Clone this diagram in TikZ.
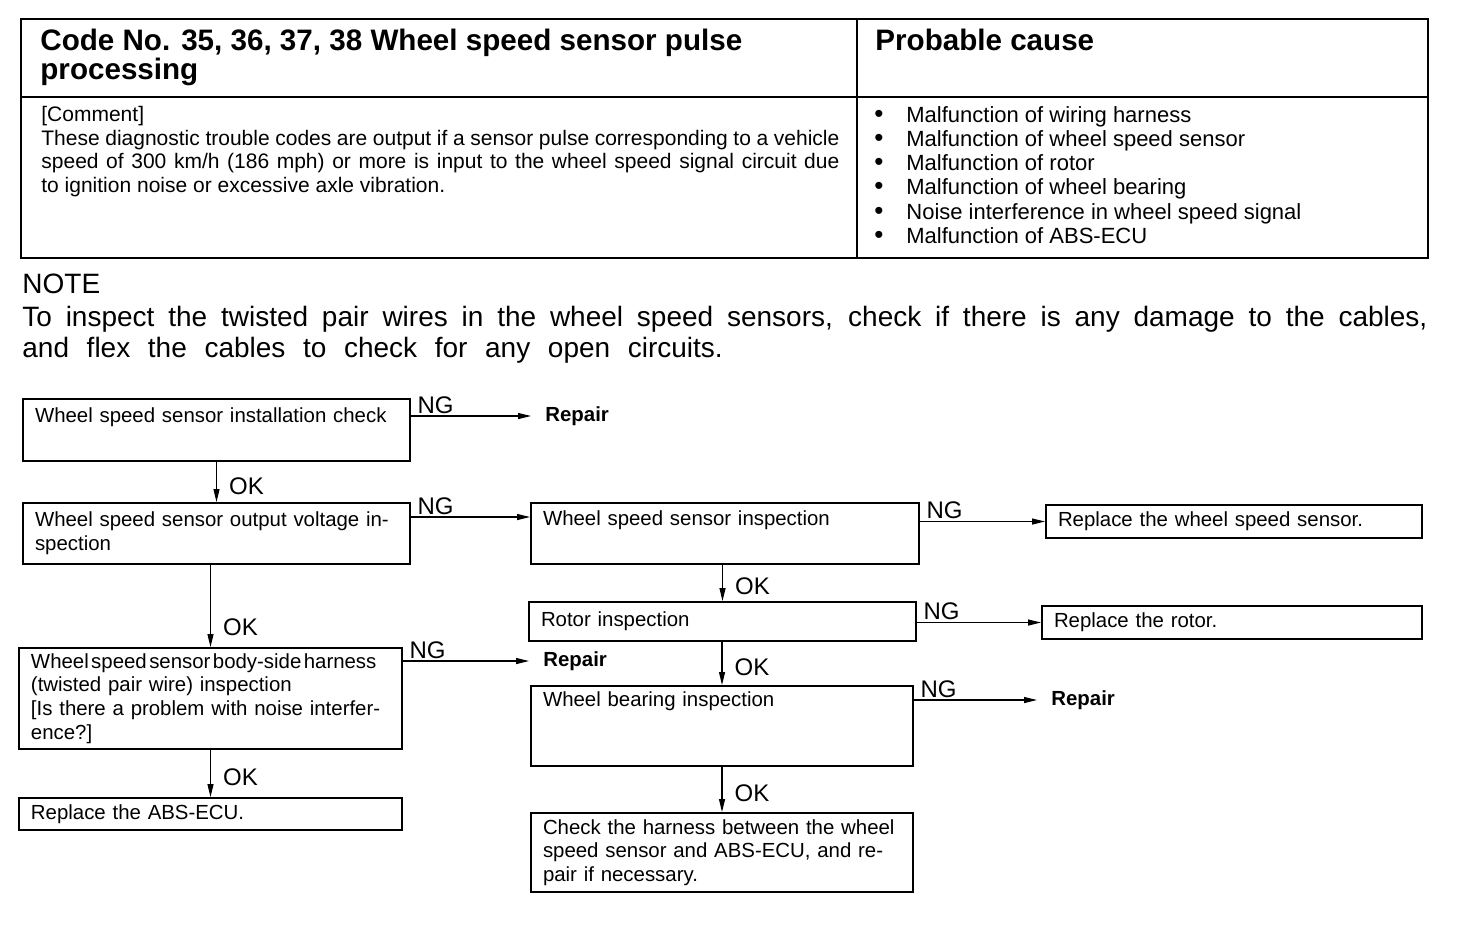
\documentclass[tikz,border=0pt]{standalone}
\usepackage{fontspec}
\setmainfont{Liberation Sans}
\usetikzlibrary{positioning,arrows.meta}
\newcommand{\boxfont}{\fontsize{10.2}{11.8}\selectfont}
\newcommand{\causebullet}{\makebox[16pt][l]{\fontsize{13}{12}\selectfont\textbullet}}
\tikzset{
  flowbox/.style={draw, line width=1pt, anchor=north west, align=left, inner xsep=6pt, inner ysep=2pt, font=\boxfont},
  repairnode/.style={anchor=west, inner xsep=7pt, inner ysep=2pt, font=\boxfont\bfseries},
  arrow/.style={-{Triangle[length=6.5pt,width=3pt]}, line width=0.6pt},
  nglabel/.style={anchor=south west, inner sep=1pt, xshift=2pt, font=\fontsize{12}{12}\selectfont},
  oklabel/.style={anchor=west, inner sep=1pt, xshift=5pt, font=\fontsize{12}{12}\selectfont},
  tablerule/.style={line width=1.2pt}
}

\begin{document}
\begin{tikzpicture}[x=0.5pt, y=-0.5pt]
\useasboundingbox (0,0) rectangle (1472,928);
\draw[tablerule] (21,19) rectangle (1428,258);
\draw[tablerule] (857,19) -- (857,258);
\draw[tablerule] (21,97) -- (1428,97);
\node[anchor=north west, inner sep=0, align=left, font=\fontsize{14.8}{14.5}\selectfont\bfseries] (title) at (40,29) {Code No. 35, 36, 37, 38 Wheel speed sensor pulse\\processing};
\node[anchor=north west, inner sep=0, align=left, font=\fontsize{14.8}{14.5}\selectfont\bfseries] (causehead) at (875,29) {Probable cause};
\node[anchor=north west, inner sep=0, text width=399pt, align=justify, font=\fontsize{10.5}{11.75}\selectfont] (comment) at (41,106) {[Comment]\\These diagnostic trouble codes are output if a sensor pulse corresponding to a vehicle\linebreak speed of 300 km/h (186 mph) or more is input to the wheel speed signal circuit due\linebreak to ignition noise or excessive axle vibration.};
\node[anchor=north west, inner sep=0, align=left, font=\fontsize{11}{12.1}\selectfont] (causes) at (874,106) {\causebullet Malfunction of wiring harness\\\causebullet Malfunction of wheel speed sensor\\\causebullet Malfunction of rotor\\\causebullet Malfunction of wheel bearing\\\causebullet Noise interference in wheel speed signal\\\causebullet Malfunction of ABS-ECU};
\node[anchor=north west, inner sep=0, font=\fontsize{14}{15.5}\selectfont] (note) at (22,274) {NOTE};
\node[anchor=north west, inner sep=0, text width=702.5pt, align=justify, font=\fontsize{14}{15.5}\selectfont] (notetext) at (22,306) {To inspect the twisted pair wires in the wheel speed sensors, check if there is any damage to the cables,\linebreak{\spaceskip=0.63em and flex the cables to check for any open circuits.}};

\node[flowbox, text width=181.5pt, minimum height=31pt] (install) at (22,398) {Wheel speed sensor installation check\\\strut};
\node[flowbox, text width=181.5pt, minimum height=30.5pt] (voltage) at (22,502) {Wheel speed sensor output voltage in-\\spection};
\node[flowbox, text width=179.5pt, minimum height=50.5pt] (harness) at (18,647) {{\spaceskip=0.12em Wheel speed sensor body-side harness}\\(twisted pair wire) inspection\\{[}Is there a problem with noise interfer-\\ence?{]}};
\node[flowbox, text width=179.5pt, minimum height=16pt] (ecu) at (18,797) {Replace the ABS-ECU.};
\node[flowbox, text width=182pt, minimum height=30.5pt] (sensor) at (530,502) {Wheel speed sensor inspection\\\strut};
\node[flowbox, text width=176pt, minimum height=16.5pt] (replsensor) at (1045,504) {Replace the wheel speed sensor.};
\node[flowbox, text width=181.5pt, minimum height=19.5pt] (rotor) at (528,601) {Rotor inspection};
\node[flowbox, text width=178pt, minimum height=16.5pt] (replrotor) at (1041,605) {Replace the rotor.};
\node[flowbox, text width=179pt, minimum height=40pt] (bearing) at (530,685) {Wheel bearing inspection\\\strut\\\strut};
\node[flowbox, text width=179pt, minimum height=39.5pt] (check) at (530,812) {Check the harness between the wheel\\speed sensor and ABS-ECU, and re-\\pair if necessary.};
\node[repairnode] (repairA) at (531,416) {Repair};
\node[repairnode] (repairB) at (529,661) {Repair};
\node[repairnode] (repairC) at (1037,700) {Repair};

\draw[arrow] (install.east |- repairA.west) -- (repairA.west) node[nglabel, at start] {NG};
\draw[arrow] (install.south) -- (voltage.north) node[oklabel, pos=0.6] {OK};
\draw[arrow] ([yshift=-7.5pt]voltage.north east) -- ([yshift=-7.5pt]sensor.north west) node[nglabel, at start] {NG};
\draw[arrow] (harness.north |- voltage.south) -- (harness.north) node[oklabel, pos=0.76] {OK};
\draw[arrow] (harness.east |- repairB.west) -- (repairB.west) node[nglabel, at start] {NG};
\draw[arrow] (harness.south) -- (ecu.north) node[oklabel, pos=0.57] {OK};
\draw[arrow] (sensor.east |- replsensor.west) -- (replsensor.west) node[nglabel, at start] {NG};
\draw[arrow] (rotor.north |- sensor.south) -- (rotor.north) node[oklabel, pos=0.58] {OK};
\draw[arrow] (rotor.east |- replrotor.west) -- (replrotor.west) node[nglabel, at start] {NG};
\draw[arrow] (bearing.north |- rotor.south) -- (bearing.north) node[oklabel, pos=0.58] {OK};
\draw[arrow] (bearing.east |- repairC.west) -- (repairC.west) node[nglabel, at start] {NG};
\draw[arrow] (bearing.south) -- (check.north) node[oklabel, pos=0.58] {OK};
\end{tikzpicture}
\end{document}
